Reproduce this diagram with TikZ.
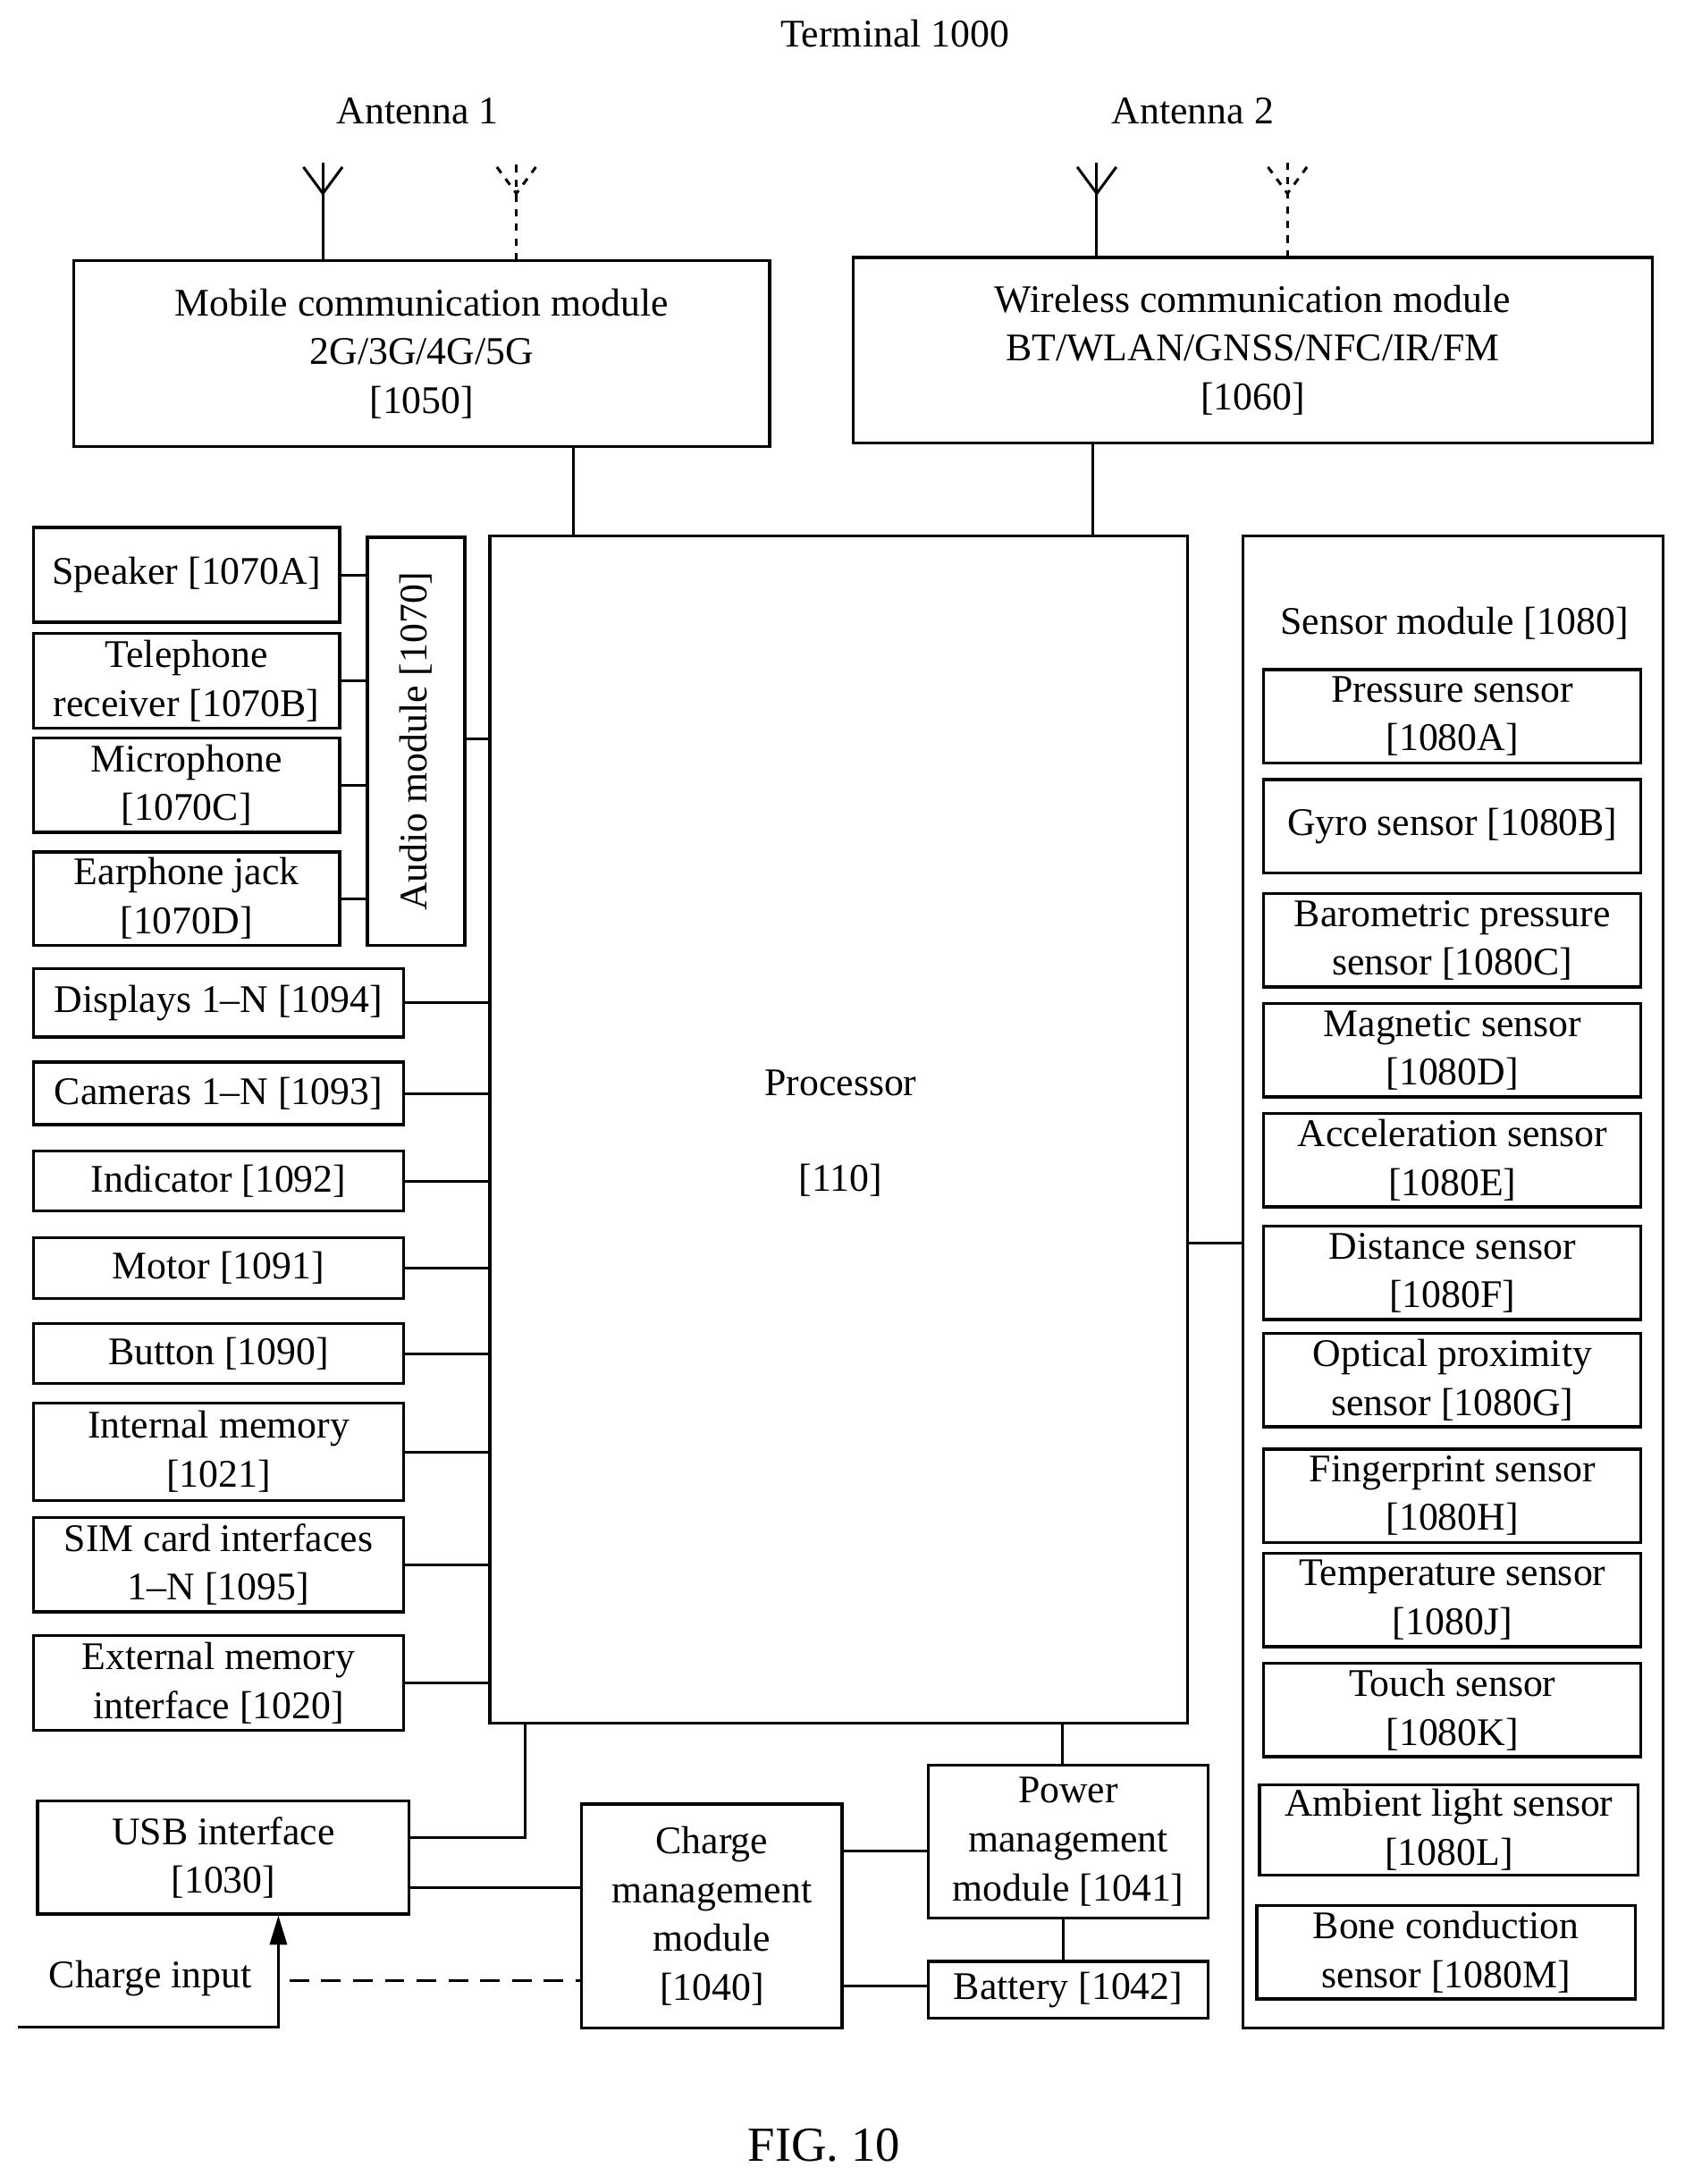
\documentclass[tikz,border=0pt]{standalone}
\usepackage{fontspec}
\setmainfont{Liberation Serif}
\usetikzlibrary{fit,arrows.meta}

\tikzset{
  blk/.style={draw, line width=1.2pt, inner sep=0pt},
  txt/.style={align=center, inner sep=0pt},
  wire/.style={line width=1.1pt},
}
\newcommand{\blk}[6]{\node[blk, fit={(#2,#3) (#4,#5)}] (#1) {};
  \node[txt] (#1t) at (#1.center) {#6};}

\begin{document}
\begin{tikzpicture}[x=0.02cm, y=-0.02cm, font=\fontsize{16}{20}\selectfont]
\useasboundingbox (0,0) rectangle (1210,1569);

\node (title) at (643,24) {Terminal 1000};
\node (ant1) at (300,80) {Antenna 1};
\node (ant2) at (857,80) {Antenna 2};

% modules on top
\blk{mob}{53}{187}{553}{321}{Mobile communication module\\2G/3G/4G/5G\\{}[1050]}
\blk{wls}{613}{185}{1187}{318}{Wireless communication module\\BT/WLAN/GNSS/NFC/IR/FM\\{}[1060]}

% antennas
\foreach \x/\y in {232/187, 788/185} {
  \draw[wire] (\x,\y) -- (\x,117);
  \draw[wire] (\x-14,120) -- (\x,139) -- (\x+14,120);
}
\foreach \x/\y in {371/187, 925/185} {
  \draw[wire, dashed] (\x,\y) -- (\x,117);
  \draw[wire, dashed] (\x-14,120) -- (\x,139) -- (\x+14,120);
}

% processor
\blk{proc}{352}{385}{853}{1238}{}
\node (proclbl) at (604,778) {Processor};
\node (procnum) at (604,848) {[110]};
\draw[wire] (mob.south -| 412,0) -- (proc.north -| 412,0);
\draw[wire] (wls.south -| 785,0) -- (proc.north -| 785,0);

% audio
\blk{aud}{264}{386}{334}{679}{}
\node[rotate=90] (audlbl) at (aud.center) {Audio module [1070]};
\draw[wire] (aud.east |- 0,531) -- (proc.west |- 0,531);
\blk{spk}{24}{379}{244}{447}{Speaker [1070A]}
\blk{rcv}{24}{455}{244}{523}{Telephone\\receiver [1070B]}
\blk{mic}{24}{530}{244}{598}{Microphone\\{}[1070C]}
\blk{jack}{24}{612}{244}{679}{Earphone jack\\{}[1070D]}
\foreach \n in {spk,rcv,mic,jack}
  \draw[wire] (\n.east) -- (\n.east -| aud.west);

% left column
\blk{disp}{24}{696}{290}{745}{Displays 1--N [1094]}
\blk{cam}{24}{763}{290}{808}{Cameras 1--N [1093]}
\blk{ind}{24}{827}{290}{870}{Indicator [1092]}
\blk{mot}{24}{889}{290}{933}{Motor [1091]}
\blk{btn}{24}{951}{290}{994}{Button [1090]}
\blk{imem}{24}{1008}{290}{1078}{Internal memory\\{}[1021]}
\blk{sim}{24}{1090}{290}{1158}{SIM card interfaces\\1--N [1095]}
\blk{emem}{24}{1175}{290}{1243}{External memory\\interface [1020]}
\foreach \n in {disp,cam,ind,mot,btn,imem,sim,emem}
  \draw[wire] (\n.east) -- (\n.east -| proc.west);

% sensor module
\blk{sens}{893}{385}{1195}{1457}{}
\node (senslbl) at (1045,448) {Sensor module [1080]};
\draw[wire] (proc.east |- 0,893) -- (sens.west |- 0,893);
\blk{sA}{908}{481}{1179}{548}{Pressure sensor\\{}[1080A]}
\blk{sB}{908}{560}{1179}{627}{Gyro sensor [1080B]}
\blk{sC}{908}{642}{1179}{709}{Barometric pressure\\sensor [1080C]}
\blk{sD}{908}{721}{1179}{788}{Magnetic sensor\\{}[1080D]}
\blk{sE}{908}{800}{1179}{867}{Acceleration sensor\\{}[1080E]}
\blk{sF}{908}{881}{1179}{948}{Distance sensor\\{}[1080F]}
\blk{sG}{908}{958}{1179}{1025}{Optical proximity\\sensor [1080G]}
\blk{sH}{908}{1041}{1179}{1108}{Fingerprint sensor\\{}[1080H]}
\blk{sJ}{908}{1116}{1179}{1183}{Temperature sensor\\{}[1080J]}
\blk{sK}{908}{1195}{1179}{1262}{Touch sensor\\{}[1080K]}
\blk{sL}{905}{1282}{1177}{1347}{Ambient light sensor\\{}[1080L]}
\blk{sM}{903}{1369}{1175}{1436}{Bone conduction\\sensor [1080M]}

% power section
\blk{usb}{27}{1294}{294}{1375}{USB interface\\{}[1030]}
\blk{chg}{418}{1296}{605}{1457}{Charge\\management\\module\\{}[1040]}
\blk{pwr}{667}{1268}{868}{1378}{Power\\management\\module [1041]}
\blk{bat}{667}{1409}{868}{1450}{Battery [1042]}
\coordinate (usbc) at (377,1320);
\draw[wire] (usb.east |- usbc) -- (usbc) -- (proc.south -| usbc);
\draw[wire] (usb.east |- 0,1356) -- (chg.west |- 0,1356);
\draw[wire] (proc.south -| 763,0) -- (pwr.north -| 763,0);
\draw[wire] (pwr.south -| 764,0) -- (bat.north -| 764,0);
\draw[wire] (chg.east |- 0,1330) -- (pwr.west |- 0,1330);
\draw[wire] (chg.east |- 0,1427) -- (bat.west |- 0,1427);

\node (chin) at (108,1421) {Charge input};
\coordinate (chfree) at (13,1456);
\draw[wire, -{Triangle[length=12pt,width=7pt]}] (chfree) -- (200,1456) -- (usb.south -| 200,0);
\draw[wire, dashed, dash pattern=on 8pt off 5pt] (208,1423) -- (chg.west |- 0,1423);

\node[font=\fontsize{20}{24}\selectfont] (fig) at (592,1541) {FIG. 10};
\end{tikzpicture}
\end{document}
